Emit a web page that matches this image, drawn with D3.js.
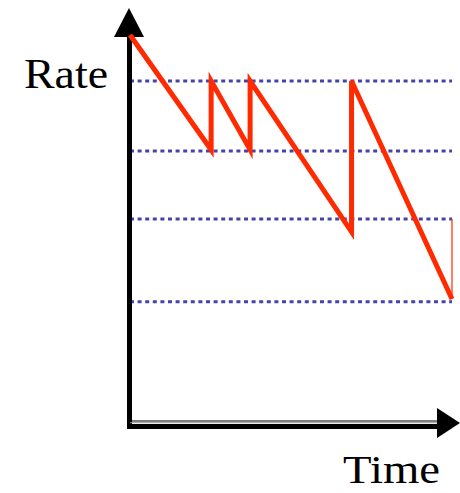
<!DOCTYPE html>
<html><head><meta charset="utf-8">
<script src="https://cdn.jsdelivr.net/npm/d3@7"></script>
<style>body{margin:0;background:#fff}svg{display:block}</style>
</head><body>
<script>
const times = [0, 25.2, 25.2, 37.3, 37.3, 68.8, 68.8, 100];
const rates = [97.5, 68.8, 86, 68.8, 86, 48.3, 86, 31.5];
const levels = [86, 68.5, 51.5, 30.8];
const tailTime = [100, 100];
const tailRate = [51.5, 31.5];
const axisLabels = ["Rate", "Time"];

const W = 460, H = 493;
const svg = d3.select("body").append("svg").attr("width", W).attr("height", H);
const x = d3.scaleLinear().domain([0, 100]).range([130, 452]);
const y = d3.scaleLinear().domain([0, 100]).range([425, 25]);

// dotted level lines
svg.selectAll("line.level").data(levels).enter().append("line")
  .attr("x1", x(0)).attr("x2", x(100))
  .attr("y1", d => y(d)).attr("y2", d => y(d))
  .attr("stroke", "#4444aa").attr("stroke-width", 3)
  .attr("stroke-dasharray", "4,3.6");

// axes
svg.append("line").attr("x1", 129.5).attr("x2", 129.5).attr("y1", 34).attr("y2", 429)
  .attr("stroke", "#000").attr("stroke-width", 5);
svg.append("path").attr("d", "M129,8 L114,37 L144,37 Z").attr("fill", "#000");
svg.append("line").attr("x1", 127).attr("x2", 440).attr("y1", 426.5).attr("y2", 426.5)
  .attr("stroke", "#000").attr("stroke-width", 5);
svg.append("line").attr("x1", 130).attr("x2", 440).attr("y1", 421).attr("y2", 421)
  .attr("stroke", "#000").attr("stroke-width", 1);
svg.append("line").attr("x1", 130).attr("x2", 440).attr("y1", 422.7).attr("y2", 422.7)
  .attr("stroke", "#999").attr("stroke-width", 1);
svg.append("path").attr("d", "M460,423 L437,408 L437,438 Z").attr("fill", "#000");

// sawtooth rate line
const pts = times.map((t, i) => [t, rates[i]]);
svg.append("path").datum(pts)
  .attr("d", d3.line().x(d => x(d[0])).y(d => y(d[1])))
  .attr("fill", "none").attr("stroke", "#ff2a00").attr("stroke-width", 5)
  .attr("stroke-linejoin", "miter");
svg.append("line").attr("x1", x(tailTime[0])).attr("x2", x(tailTime[1]))
  .attr("y1", y(tailRate[0])).attr("y2", y(tailRate[1]))
  .attr("stroke", "#ff2a00").attr("stroke-width", 1.2);

// labels
svg.append("text").attr("x", 24).attr("y", 88).text(axisLabels[0])
  .attr("font-family", "Liberation Serif, Times New Roman, serif").attr("font-size", 42)
  .attr("textLength", 84).attr("lengthAdjust", "spacingAndGlyphs");
svg.append("text").attr("x", 343).attr("y", 483).text(axisLabels[1])
  .attr("font-family", "Liberation Serif, Times New Roman, serif").attr("font-size", 40)
  .attr("textLength", 97).attr("lengthAdjust", "spacingAndGlyphs");
</script>
</body></html>
